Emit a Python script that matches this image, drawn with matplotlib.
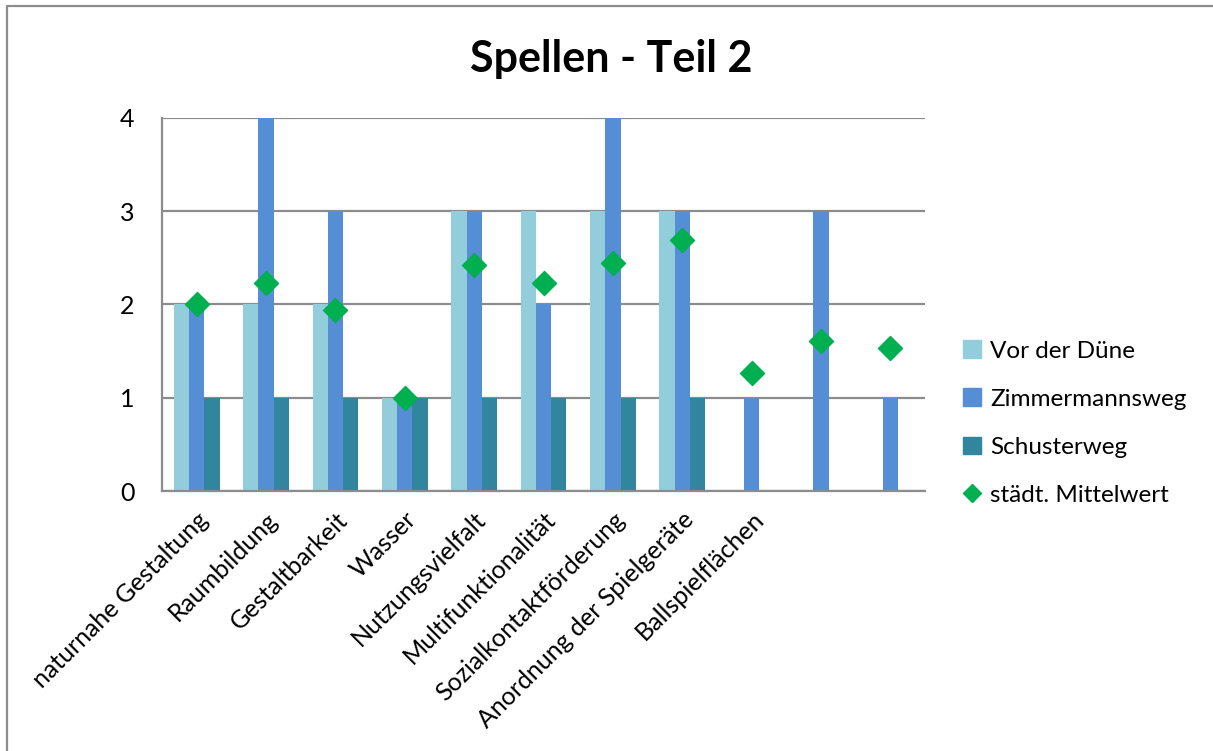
import matplotlib.pyplot as plt
import numpy as np
from matplotlib.lines import Line2D
from matplotlib.patches import Patch

plt.rcParams['font.family'] = ['Lato', 'DejaVu Sans']

categories = ['naturnahe Gestaltung', 'Raumbildung', 'Gestaltbarkeit', 'Wasser',
              'Nutzungsvielfalt', 'Multifunktionalität', 'Sozialkontaktförderung',
              'Anordnung der Spielgeräte', 'Ballspielflächen', '', '']
vor_der_duene = [2, 2, 2, 1, 3, 3, 3, 3, 0, 0, 0]
zimmermannsweg = [2, 4, 3, 1, 3, 2, 4, 3, 1, 3, 1]
schusterweg = [1, 1, 1, 1, 1, 1, 1, 1, 0, 0, 0]
mittelwert = [2.0, 2.23, 1.94, 1.0, 2.42, 2.23, 2.44, 2.69, 1.27, 1.61, 1.53]

colors = ['#92CDDC', '#558ED5', '#31859C']

fig = plt.figure(figsize=(12.13, 7.51), dpi=100)
ax = fig.add_axes([0.1336, 0.3462, 0.6290, 0.4967])

x = np.arange(len(categories))
w = 0.22
ax.bar(x - w, vor_der_duene, w, color=colors[0], zorder=2)
ax.bar(x, zimmermannsweg, w, color=colors[1], zorder=2)
ax.bar(x + w, schusterweg, w, color=colors[2], zorder=2)
ax.scatter(x, mittelwert, marker='D', s=150, color='#00B050', zorder=3)

ax.set_xlim(-0.5, len(categories) - 0.5)
ax.set_ylim(0, 4)
ax.set_yticks([0, 1, 2, 3, 4])
ax.yaxis.grid(True, color='#8C8C8C', linewidth=1.6, zorder=0)
ax.set_axisbelow(True)
for s in ['top', 'right']:
    ax.spines[s].set_visible(False)
for s in ['left', 'bottom']:
    ax.spines[s].set_color('#8C8C8C')
    ax.spines[s].set_linewidth(1.6)
ax.tick_params(axis='y', length=0, labelsize=18, pad=20)
ax.set_xticks(x)
ax.set_xticklabels(categories, rotation=45, ha='right', rotation_mode='anchor', fontsize=18)
ax.tick_params(axis='x', length=0, pad=12)

fig.text(0.504, 0.921, 'Spellen - Teil 2', ha='center', va='center',
         fontsize=31, fontweight='bold')

handles = [Patch(color=colors[0]), Patch(color=colors[1]), Patch(color=colors[2]),
           Line2D([], [], marker='D', color='#00B050', linestyle='none', markersize=9)]
labels = ['Vor der Düne', 'Zimmermannsweg', 'Schusterweg', 'städt. Mittelwert']
fig.legend(handles, labels, loc='upper left', bbox_to_anchor=(0.776, 0.576),
           frameon=False, fontsize=17.5, handlelength=0.75, handleheight=0.75,
           handletextpad=0.35, labelspacing=1.1)

# chart border
fig.add_artist(Line2D([0.0058, 0.0058, 1.0], [0.0, 0.992, 0.992],
                      transform=fig.transFigure, color='#8C8C8C', linewidth=1.6))

fig.savefig('out.png', dpi=100)
